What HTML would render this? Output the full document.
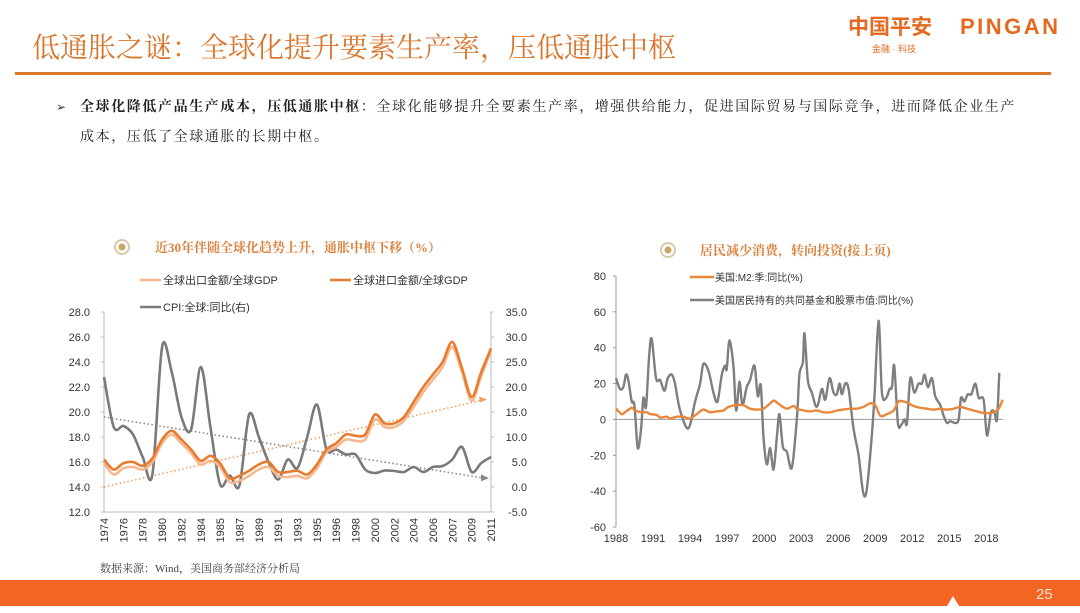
<!DOCTYPE html>
<html><head><meta charset="utf-8">
<style>
html,body{margin:0;padding:0;background:#fff;}
body{width:1080px;height:608px;overflow:hidden;position:relative;font-family:"Liberation Sans","Noto Sans CJK SC",sans-serif;}
svg text{font-family:"Liberation Sans","Noto Sans CJK SC",sans-serif;}
.serif{font-family:"Liberation Serif","Noto Serif CJK SC",serif !important;}
</style></head>
<body>
<svg id="page" width="1080" height="608" viewBox="0 0 1080 608" xmlns="http://www.w3.org/2000/svg">
  <text class="serif" x="32" y="57" font-size="28" fill="#D9772F">低通胀之谜：全球化提升要素生产率，压低通胀中枢</text>
  <g>
    <text x="848" y="34" font-size="21" font-weight="bold" fill="#E5691F">中国平安</text>
    <text x="960" y="34" font-size="22" font-weight="bold" fill="#E5691F" letter-spacing="2.5">PINGAN</text>
    <text x="872" y="52" font-size="9" fill="#E5691F">金融 · 科技</text>
  </g>
  <rect x="15" y="72" width="1036" height="3" fill="#D9772F"/>
  <text x="56" y="111" font-size="12" fill="#333">➢</text>
  <text class="serif" x="80" y="111" font-size="14" letter-spacing="1.6" fill="#222"><tspan font-weight="bold">全球化降低产品生产成本，压低通胀中枢</tspan>：全球化能够提升全要素生产率，增强供给能力，促进国际贸易与国际竞争，进而降低企业生产</text>
  <text class="serif" x="80" y="141" font-size="14" letter-spacing="1.6" fill="#222">成本，压低了全球通胀的长期中枢。</text>

  <circle cx="122" cy="247" r="7" fill="none" stroke="#D8C9A8" stroke-width="2"/>
  <circle cx="122" cy="247" r="3.5" fill="#C8A860"/>
  <text class="serif" x="155" y="252" font-size="13" font-weight="bold" fill="#D9823F">近30年伴随全球化趋势上升，通胀中枢下移（%）</text>
  <g id="leftChart"></g>

  <circle cx="668" cy="250" r="7" fill="none" stroke="#D8C9A8" stroke-width="2"/>
  <circle cx="668" cy="250" r="3.5" fill="#C8A860"/>
  <text class="serif" x="700" y="255" font-size="13" font-weight="bold" fill="#D9823F">居民减少消费，转向投资(接上页)</text>
  <g id="rightChart"></g>

  <text class="serif" x="100" y="572" font-size="11" fill="#444">数据来源：Wind，美国商务部经济分析局</text>
  <rect x="0" y="580" width="1080" height="26" fill="#F26522"/>
  <path d="M947 606 L953 596 L959 606 Z" fill="#fff"/>
  <text x="1036" y="599" font-size="15" fill="#FBE3D2">25</text>
</svg>
<script>
// ---------- Left chart data ----------
const leftYearLabels = ["1974","1976","1978","1980","1982","1984","1985","1987","1989","1991","1993","1995","1996","1998","2000","2002","2004","2006","2007","2009","2011"];
const leftLeftTicks = [12,14,16,18,20,22,24,26,28];
const leftRightTicks = [-5,0,5,10,15,20,25,30,35];
const exportGdp = [15.9,15.0,15.5,15.6,15.4,16.0,17.5,18.2,17.5,16.7,15.8,16.1,15.6,14.4,14.5,14.9,15.4,15.6,14.9,14.8,14.9,14.7,15.5,16.8,17.2,17.8,17.7,17.8,19.4,18.8,18.8,19.3,20.4,21.6,22.6,23.6,25.2,23.2,20.9,22.9,24.9];
const importGdp = [16.2,15.4,15.9,16.0,15.7,16.3,17.8,18.5,17.8,17.0,16.1,16.5,15.9,14.7,14.9,15.3,15.8,16.0,15.2,15.2,15.3,15.0,15.8,17.0,17.5,18.2,18.1,18.2,19.8,19.1,19.1,19.6,20.8,22.0,23.0,24.0,25.6,23.5,21.2,23.2,25.1];
const cpiGlobal = [22,12,12.2,10.5,6,2.5,28,23,14,11.5,24,12,0.5,2.3,0.3,14.5,10,5,1.5,5.5,3.8,10,16.5,7.5,7.5,6.5,6.5,3.5,2.8,3.3,3.2,3.0,4.0,3.0,4.0,4.2,5.5,8.0,3.0,4.8,6.0];
const tradeTrend = [14.0,21.0];
const cpiTrend = [19.6,14.7];

// ---------- Right chart data ----------
const rightYearLabels = [1988,1991,1994,1997,2000,2003,2006,2009,2012,2015,2018];
const rightTicks = [-60,-40,-20,0,20,40,60,80];
const m2Years = [1988.00,1988.46,1988.73,1989.27,1989.54,1990.08,1990.49,1990.76,1991.30,1991.57,1992.11,1992.38,1992.92,1993.46,1994.00,1994.54,1995.08,1995.62,1996.16,1996.70,1997.11,1997.78,1998.32,1998.86,1999.41,1999.95,2000.49,2000.81,2001.30,2001.84,2002.38,2002.65,2003.19,2003.73,2004.27,2004.81,2005.35,2005.89,2006.43,2006.97,2007.51,2008.05,2008.59,2009.00,2009.41,2009.95,2010.49,2010.89,2011.30,2011.70,2012.11,2012.65,2013.19,2013.73,2014.27,2014.81,2015.35,2015.89,2016.43,2016.97,2017.51,2018.05,2018.59,2019.00,2019.32];
const m2Values = [6,3,4,6.5,5,4,4,3,2.5,1,1.5,0.5,1.5,1.5,0.5,3,5.5,4,4.5,5,7,8,8,6,5.5,6,9,10.5,8,6,7.5,6,5,4.5,5,4,4,5,5.5,6,6,7,9,8,2,3,5,10,10,9,7.5,6.5,6,5.5,6,5.5,6,7,6,5,4,3.5,4,6,11];
const fundYears = [1988.00,1988.32,1988.59,1988.81,1989.00,1989.27,1989.49,1989.76,1990.03,1990.22,1990.43,1990.68,1990.89,1991.24,1991.57,1991.92,1992.19,1992.51,1992.78,1993.19,1993.86,1994.41,1994.81,1995.08,1995.49,1995.89,1996.22,1996.57,1996.84,1996.97,1997.19,1997.51,1997.73,1998.00,1998.24,1998.59,1998.86,1999.22,1999.49,1999.73,1999.95,2000.22,2000.49,2000.76,2001.03,2001.24,2001.51,2001.84,2002.24,2002.65,2002.86,2003.14,2003.27,2003.54,2003.86,2004.27,2004.68,2004.95,2005.30,2005.62,2005.89,2006.11,2006.30,2006.57,2006.84,2007.24,2007.65,2008.00,2008.27,2008.59,2008.92,2009.27,2009.54,2009.89,2010.16,2010.35,2010.54,2010.84,2011.11,2011.38,2011.57,2011.84,2012.16,2012.51,2012.78,2013.00,2013.27,2013.59,2013.86,2014.27,2014.54,2014.81,2015.08,2015.49,2015.76,2015.95,2016.22,2016.49,2016.78,2017.11,2017.38,2017.78,2018.05,2018.38,2018.65,2018.86,2019.05];
const fundValues = [23,17,18,25,22,10,8,-16,-5,12,7,35,45,23,22,16,23,25,20,5,-5,10,20,31,27,15,10,25,30,28,44,30,5,21,8,18,22,30,13,19,-10,-25,-16,-28,-10,3,-15,-18,-27,0,25,32,48,22,15,7,17,11,23,15,14,20,14,20,17,-5,-20,-40,-41,-20,10,55,15,12,17,18,30,-2,-3,0,-2,23,15,20,20,25,18,23,13,8,2,-2,-1,-2,0,12,10,14,14,20,12,11,-9,4,4,0,26];

const NS = "http://www.w3.org/2000/svg";
function mk(parent, tag, attrs){ const e=document.createElementNS(NS,tag); for(const k in attrs) e.setAttribute(k,attrs[k]); parent.appendChild(e); return e; }
function smoothPath(pts){
  let d = "M"+pts[0][0].toFixed(1)+" "+pts[0][1].toFixed(1);
  for(let i=0;i<pts.length-1;i++){
    const p0=pts[i-1]||pts[i], p1=pts[i], p2=pts[i+1], p3=pts[i+2]||p2;
    const t=0.16;
    const c1=[p1[0]+(p2[0]-p0[0])*t, p1[1]+(p2[1]-p0[1])*t];
    const c2=[p2[0]-(p3[0]-p1[0])*t, p2[1]-(p3[1]-p1[1])*t];
    d += " C"+c1[0].toFixed(1)+" "+c1[1].toFixed(1)+" "+c2[0].toFixed(1)+" "+c2[1].toFixed(1)+" "+p2[0].toFixed(1)+" "+p2[1].toFixed(1);
  }
  return d;
}

(function(){
  const g = document.getElementById('leftChart');
  const X0=104, X1=491, YT=312, YB=512;
  const xIdx = i => X0 + (X1-X0)*i/(leftYearLabels.length-1);
  const yL = v => YB - (v-12)/(28-12)*(YB-YT);
  const yR = v => YB - (v+5)/(35+5)*(YB-YT);
  let e;
  e = mk(g,'line',{x1:X0,y1:YT,x2:X0,y2:YB,stroke:'#bbb','stroke-width':1});
  
  
  e = mk(g,'line',{x1:X1,y1:YT,x2:X1,y2:YB,stroke:'#bbb','stroke-width':1});
  
  
  e = mk(g,'line',{x1:X0,y1:YB,x2:X1,y2:YB,stroke:'#bbb','stroke-width':1});
  
  
  leftLeftTicks.forEach(v=>{
    const t = mk(g,'text',{x:90,y:yL(v)+4,'font-size':11,fill:'#333','text-anchor':'end'});
    t.textContent = v.toFixed(1);
    
    
    const tk = mk(g,'line',{x1:X0-3,y1:yL(v),x2:X0,y2:yL(v),stroke:'#bbb'});
    
    
  });
  leftRightTicks.forEach(v=>{
    const t = mk(g,'text',{x:527,y:yR(v)+4,'font-size':11,fill:'#333','text-anchor':'end'});
    t.textContent = v.toFixed(1);
    
    
    const tk = mk(g,'line',{x1:X1,y1:yR(v),x2:X1+3,y2:yR(v),stroke:'#bbb'});
    
    
  });
  leftYearLabels.forEach((lab,i)=>{
    const x = xIdx(i);
    const t = mk(g,'text',{x:0,y:0,'font-size':11,fill:'#333','text-anchor':'end',transform:'translate('+(x+4)+','+(YB+6)+') rotate(-90)'});
    t.textContent = lab;
    
    
  });
  const tr = mk(g,'line',{x1:X0,y1:yL(tradeTrend[0]),x2:X1-6,y2:yL(tradeTrend[1]),stroke:'#F0A060','stroke-width':1.6,'stroke-dasharray':'1.5,2.5'});
  
  
  const ta = mk(g,'path',{d:'M'+(X1-4)+' '+yL(tradeTrend[1])+' l-8 -3 l1 6 z',fill:'#F0A060'});
  
  
  const cr = mk(g,'line',{x1:X0,y1:yL(cpiTrend[0]),x2:X1-6,y2:yL(cpiTrend[1]),stroke:'#888','stroke-width':1.6,'stroke-dasharray':'1.5,2.5'});
  
  
  const ca = mk(g,'path',{d:'M'+(X1-2)+' '+yL(cpiTrend[1])+' l-8 -4 l0 7 z',fill:'#888'});
  
  
  const series = [
    {data:cpiGlobal, y:yR, color:'#7a7a7a', name:'cpi-line'},
    {data:exportGdp, y:yL, color:'#F6B890', name:'export-gdp-line'},
    {data:importGdp, y:yL, color:'#E97B2E', name:'import-gdp-line'}
  ];
  series.forEach(s=>{
    const pts = s.data.map((v,k)=>[xIdx(k/2), s.y(v)]);
    const p = mk(g,'path',{d:smoothPath(pts),fill:'none',stroke:s.color,'stroke-width':2.6,'stroke-linejoin':'round'});
    
    
  });
  const leg = [
    {x:140,y:280,c:'#F6B890',t:'全球出口金额/全球GDP',n:'legend-export'},
    {x:330,y:280,c:'#E97B2E',t:'全球进口金额/全球GDP',n:'legend-import'},
    {x:140,y:307,c:'#7a7a7a',t:'CPI:全球:同比(右)',n:'legend-cpi'}
  ];
  leg.forEach(l=>{
    const gg = mk(g,'g',{});
    
    
    mk(gg,'line',{x1:l.x,y1:l.y,x2:l.x+21,y2:l.y,stroke:l.c,'stroke-width':2.6});
    const t = mk(gg,'text',{x:l.x+23,y:l.y+4,'font-size':11,fill:'#333'});
    t.textContent = l.t;
  });
})();

(function(){
  const g = document.getElementById('rightChart');
  const X0=616, X1=1003, XMIN=1988, XMAX=2019.35, YT=276, YB=527;
  const x = yr => X0 + (yr-XMIN)/(XMAX-XMIN)*(X1-X0);
  const y = v => YB - (v+60)/140*(YB-YT);
  let e;
  e = mk(g,'line',{x1:X0,y1:YT,x2:X0,y2:YB,stroke:'#999'});
  
  
  e = mk(g,'line',{x1:X0,y1:y(0),x2:X1,y2:y(0),stroke:'#999'});
  
  
  rightTicks.forEach(v=>{
    const t = mk(g,'text',{x:606,y:y(v)+4,'font-size':11,fill:'#333','text-anchor':'end'});
    t.textContent = v;
    
    
    const tk = mk(g,'line',{x1:X0-3,y1:y(v),x2:X0,y2:y(v),stroke:'#999'});
    
    
  });
  rightYearLabels.forEach(yr=>{
    const t = mk(g,'text',{x:x(yr),y:542,'font-size':11,fill:'#333','text-anchor':'middle'});
    t.textContent = yr;
    
    
  });
  const p1 = mk(g,'path',{d:smoothPath(fundYears.map((yr,i)=>[x(yr),y(fundValues[i])])),fill:'none',stroke:'#7f7f7f','stroke-width':2.4,'stroke-linejoin':'round'});
  
  
  const p2 = mk(g,'path',{d:smoothPath(m2Years.map((yr,i)=>[x(yr),y(m2Values[i])])),fill:'none',stroke:'#E9873A','stroke-width':2.4,'stroke-linejoin':'round'});
  
  
  const leg = [
    {y:277,c:'#E9873A',t:'美国:M2:季:同比(%)',n:'legend-m2'},
    {y:300,c:'#7f7f7f',t:'美国居民持有的共同基金和股票市值:同比(%)',n:'legend-fund'}
  ];
  leg.forEach(l=>{
    const gg = mk(g,'g',{});
    
    
    mk(gg,'line',{x1:690,y1:l.y,x2:714,y2:l.y,stroke:l.c,'stroke-width':2.6});
    const t = mk(gg,'text',{x:715,y:l.y+4,'font-size':10,fill:'#333'});
    t.textContent = l.t;
  });
})();
</script>
</body></html>
